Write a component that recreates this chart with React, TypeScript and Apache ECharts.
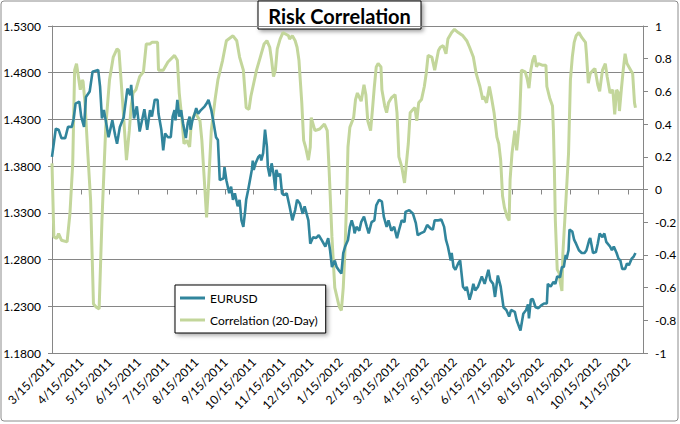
import React, { useEffect, useRef } from "react";
import * as echarts from "echarts";

// Days since 2011-03-15 and EURUSD values
const eurDays = [0,4,7,10,14,17,21,23,25,29,31,34,36,40,43,49,51,53,55,57,60,64,67,69,72,76,80,83,84,87,90,93,98,101,104,106,109,112,113,116,118,120,123,126,128,130,131,133,135,137,139,142,144,146,147,149,151,153,155,158,162,164,166,169,171,174,176,178,182,183,185,188,190,192,194,197,199,201,203,205,206,208,210,212,213,214,216,219,221,222,224,226,228,229,231,233,235,237,238,240,242,244,246,249,252,255,258,260,263,266,268,272,274,277,280,283,286,290,293,295,297,300,302,304,307,309,311,314,316,318,320,321,323,326,328,331,334,336,339,342,344,347,350,352,355,357,360,363,366,368,371,374,375,379,383,386,388,391,395,398,402,404,406,410,413,416,418,420,423,424,426,428,431,433,436,439,440,443,445,447,449,452,456,459,463,465,468,470,473,476,479,482,485,487,491,493,497,500,503,505,506,508,510,513,516,519,522,525,526,529,532,534,536,539,541,543,545,546,548,549,552,554,556,559,562,565,567,570,571,574,577,579,581,584,586,588,592,594,596,599,601,603,605,608,610,612,615,617,619];
const eurValues = [1.390,1.420,1.419,1.410,1.410,1.422,1.422,1.431,1.447,1.449,1.433,1.422,1.454,1.460,1.481,1.483,1.465,1.431,1.440,1.429,1.411,1.429,1.413,1.404,1.422,1.432,1.463,1.456,1.467,1.431,1.444,1.417,1.441,1.419,1.440,1.433,1.451,1.451,1.436,1.419,1.397,1.415,1.411,1.411,1.433,1.440,1.429,1.451,1.433,1.440,1.426,1.410,1.426,1.433,1.419,1.429,1.435,1.442,1.436,1.440,1.444,1.447,1.451,1.440,1.429,1.411,1.408,1.365,1.367,1.379,1.365,1.351,1.358,1.344,1.351,1.337,1.344,1.322,1.315,1.333,1.344,1.354,1.365,1.376,1.386,1.376,1.383,1.390,1.392,1.386,1.394,1.419,1.401,1.379,1.369,1.383,1.372,1.354,1.376,1.369,1.372,1.351,1.349,1.351,1.337,1.322,1.333,1.344,1.340,1.329,1.337,1.322,1.297,1.304,1.303,1.306,1.301,1.294,1.303,1.290,1.272,1.279,1.272,1.269,1.265,1.287,1.294,1.301,1.315,1.322,1.315,1.308,1.315,1.311,1.320,1.326,1.315,1.308,1.320,1.322,1.338,1.344,1.342,1.326,1.315,1.322,1.311,1.315,1.303,1.311,1.322,1.320,1.331,1.333,1.329,1.319,1.306,1.308,1.310,1.317,1.313,1.312,1.322,1.322,1.323,1.315,1.301,1.294,1.279,1.287,1.272,1.269,1.276,1.279,1.251,1.247,1.251,1.237,1.244,1.254,1.247,1.251,1.262,1.254,1.269,1.258,1.254,1.240,1.263,1.251,1.229,1.226,1.219,1.226,1.224,1.215,1.204,1.222,1.226,1.232,1.217,1.237,1.238,1.229,1.228,1.231,1.233,1.233,1.254,1.251,1.256,1.254,1.262,1.261,1.272,1.272,1.285,1.281,1.290,1.312,1.310,1.301,1.297,1.290,1.287,1.287,1.290,1.301,1.303,1.287,1.288,1.297,1.308,1.304,1.308,1.299,1.294,1.290,1.294,1.287,1.281,1.279,1.270,1.270,1.276,1.274,1.281,1.283,1.287];

// Days since 2011-03-15 and 20-day correlation values
const corrDays = [0,2,5,7,10,16,19,22,24,26,30,32,33,35,38,41,44,47,50,53,57,61,65,69,71,75,79,82,84,86,89,93,97,100,104,106,112,113,118,123,130,133,135,138,140,143,146,148,152,157,159,162,164,166,169,173,176,181,185,192,196,199,203,206,209,211,214,217,221,225,228,231,233,235,237,239,242,245,251,252,255,258,260,262,265,267,269,272,274,275,279,284,289,292,294,297,300,304,305,307,309,311,313,314,316,320,322,324,328,331,333,335,338,340,342,344,346,349,350,353,355,357,360,364,366,368,371,374,375,378,380,383,385,387,389,392,395,397,399,403,406,410,412,415,418,420,424,427,431,436,440,443,447,450,454,457,458,461,464,466,469,472,474,476,478,480,483,485,486,488,491,493,496,498,502,504,506,508,510,512,514,516,520,524,525,528,531,532,533,534,536,538,539,541,542,545,548,550,552,554,556,559,562,566,567,569,571,574,576,579,581,584,587,589,592,595,597,599,601,602,604,606,608,610,614,616,618,619];
const corrValues = [0.16,-0.29,-0.30,-0.27,-0.31,-0.32,-0.15,0.16,0.73,0.77,0.61,0.67,0.66,0.53,0.22,-0.07,-0.70,-0.72,-0.73,-0.19,0.38,0.67,0.81,0.86,0.85,0.53,0.18,0.36,0.51,0.59,0.61,0.69,0.72,0.89,0.89,0.90,0.90,0.73,0.73,0.78,0.82,0.79,0.59,0.42,0.28,0.30,0.26,0.42,0.47,0.42,0.30,0.02,-0.17,0.02,0.36,0.55,0.67,0.79,0.91,0.94,0.91,0.81,0.73,0.50,0.49,0.57,0.65,0.73,0.81,0.89,0.91,0.87,0.79,0.69,0.73,0.86,0.92,0.96,0.94,0.92,0.94,0.91,0.87,0.79,0.53,0.30,0.26,0.18,0.26,0.44,0.36,0.37,0.40,0.36,0.12,-0.29,-0.60,-0.70,-0.72,-0.74,-0.60,-0.35,0.02,0.26,0.38,0.44,0.55,0.59,0.54,0.64,0.58,0.42,0.36,0.49,0.63,0.75,0.77,0.75,0.61,0.51,0.47,0.53,0.56,0.58,0.47,0.20,0.14,0.04,0.10,0.28,0.47,0.49,0.50,0.42,0.53,0.55,0.63,0.71,0.82,0.81,0.73,0.85,0.87,0.88,0.83,0.92,0.96,0.98,0.96,0.94,0.91,0.87,0.81,0.71,0.63,0.55,0.57,0.53,0.63,0.57,0.47,0.32,0.28,0.18,-0.04,-0.11,-0.17,-0.19,0.06,0.22,0.36,0.24,0.42,0.73,0.72,0.68,0.62,0.73,0.79,0.82,0.75,0.77,0.76,0.76,0.63,0.56,0.51,0.36,0.12,-0.19,-0.49,-0.51,-0.56,-0.62,-0.39,-0.09,0.22,0.67,0.81,0.90,0.94,0.96,0.93,0.90,0.83,0.65,0.71,0.73,0.74,0.64,0.60,0.73,0.77,0.69,0.59,0.61,0.46,0.61,0.59,0.48,0.61,0.73,0.83,0.77,0.73,0.71,0.53,0.50];

// Tick labels: 15th of each month, 3/15/2011 .. 11/15/2012
const tickMonths: [number, number][] = [
  [2011, 3], [2011, 4], [2011, 5], [2011, 6], [2011, 7], [2011, 8], [2011, 9], [2011, 10], [2011, 11], [2011, 12],
  [2012, 1], [2012, 2], [2012, 3], [2012, 4], [2012, 5], [2012, 6], [2012, 7], [2012, 8], [2012, 9], [2012, 10], [2012, 11],
];

const DAY = 86400000;
const START = Date.UTC(2011, 2, 15);
const MAX_DAY = 627;

const FONT = "Lato, 'Open Sans', sans-serif";

export default function App() {
  const ref = useRef<HTMLDivElement>(null);

  useEffect(() => {
    if (!ref.current) return;
    const chart = echarts.init(ref.current, undefined, { renderer: "svg" });
    const tickValues = tickMonths.map(([y, m]) => Math.round((Date.UTC(y, m - 1, 15) - START) / DAY));
    const fmt = (v: number) => {
      const d = new Date(START + Math.round(v) * DAY);
      return `${d.getUTCMonth() + 1}/${d.getUTCDate()}/${d.getUTCFullYear()}`;
    };
    chart.setOption({
      animation: false,
      backgroundColor: "#ffffff",
      textStyle: { fontFamily: FONT },
      grid: { left: 52, right: 37, top: 26, bottom: 71, containLabel: false },
      legend: {
        orient: "vertical",
        left: 175,
        top: 285,
        padding: [6, 8, 6, 5],
        itemGap: 8,
        itemWidth: 25,
        itemHeight: 3,
        icon: "rect",
        backgroundColor: "#ffffff",
        borderColor: "#000000",
        borderWidth: 1,
        shadowBlur: 4,
        shadowOffsetX: 2,
        shadowOffsetY: 2,
        shadowColor: "rgba(0,0,0,0.35)",
        textStyle: { fontFamily: FONT, fontSize: 12, color: "#000", lineHeight: 14 },
        data: [
          { name: "EURUSD", icon: "rect" },
          { name: "Correlation (20-Day)", icon: "rect" },
        ],
      },
      xAxis: {
        type: "value",
        min: 0,
        max: MAX_DAY,
        axisLine: { lineStyle: { color: "#868686", width: 1 } },
        axisTick: { show: true, customValues: tickValues, length: 5, lineStyle: { color: "#868686" } },
        axisLabel: {
          customValues: tickValues,
          rotate: 45,
          margin: 7,
          fontFamily: FONT,
          fontSize: 12,
          color: "#000",
          formatter: (v: number) => fmt(v),
        },
        splitLine: { show: false },
      },
      yAxis: [
        {
          type: "value",
          min: 1.18,
          max: 1.53,
          interval: 0.05,
          position: "left",
          axisLine: { show: true, lineStyle: { color: "#868686" } },
          axisTick: { show: true, length: 4, lineStyle: { color: "#868686" } },
          axisLabel: {
            margin: 11,
            fontFamily: FONT,
            fontSize: 12,
            color: "#000",
            formatter: (v: number) => v.toFixed(4),
          },
          splitLine: { show: true, lineStyle: { color: "#868686", width: 1 } },
        },
        {
          type: "value",
          min: -1,
          max: 1,
          interval: 0.2,
          position: "right",
          axisLine: { show: true, lineStyle: { color: "#868686" } },
          axisTick: { show: true, length: 5, lineStyle: { color: "#868686" } },
          axisLabel: {
            margin: 12,
            fontFamily: FONT,
            fontSize: 12,
            color: "#000",
            formatter: (v: number) => String(Math.round(v * 10) / 10),
          },
          splitLine: { show: false },
        },
      ],
      series: [
        {
          name: "Correlation (20-Day)",
          type: "line",
          yAxisIndex: 1,
          symbol: "none",
          showSymbol: false,
          z: 2,
          color: "#C3D69B",
          lineStyle: { color: "#C3D69B", width: 3 },
          data: corrDays.map((d, i) => [d, corrValues[i]]),
        },
        {
          name: "EURUSD",
          type: "line",
          yAxisIndex: 0,
          symbol: "none",
          showSymbol: false,
          z: 3,
          color: "#31859C",
          lineStyle: { color: "#31859C", width: 2.6 },
          data: eurDays.map((d, i) => [d, eurValues[i]]),
        },
      ],
      graphic: [
        {
          type: "rect",
          shape: { x: 1, y: 1, width: 677, height: 420, r: 3 },
          style: { fill: "none", stroke: "#8c8c8c", lineWidth: 1 },
          silent: true,
          z: -1,
        },
        {
          type: "group",
          z: 100,
          children: [
            {
              type: "rect",
              shape: { x: 258, y: 1, width: 163, height: 28 },
              style: {
                fill: "#ffffff",
                stroke: "#000000",
                lineWidth: 1,
                shadowBlur: 4,
                shadowOffsetX: 2,
                shadowOffsetY: 2,
                shadowColor: "rgba(0,0,0,0.4)",
              },
            },
            {
              type: "text",
              x: 339.5,
              y: 15.5,
              style: {
                text: "Risk Correlation",
                fontFamily: FONT,
                fontWeight: "bold",
                fontSize: 20,
                fill: "#000",
                align: "center",
                verticalAlign: "middle",
              },
            },
          ],
        },
      ],
    });
    return () => chart.dispose();
  }, []);

  return (
    <div
      ref={ref}
      style={{ position: "fixed", left: 0, top: 0, width: 680, height: 424, background: "#fff" }}
    />
  );
}
